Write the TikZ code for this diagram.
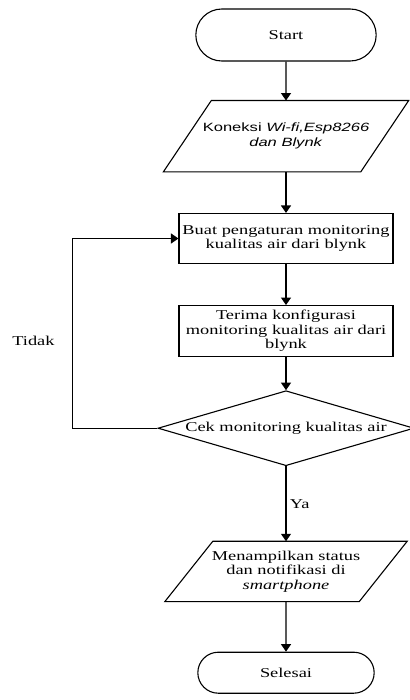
\documentclass[tikz,border=0pt]{standalone}
\usepackage{fontspec}
\setmainfont{Liberation Serif}[FakeStretch=1.36]
\newfontfamily\sanswide{Liberation Sans}[FakeStretch=1.38]
\usetikzlibrary{arrows.meta, positioning, shapes.geometric, shapes.misc}

\begin{document}
\begin{tikzpicture}[
        x=1pt, y=-1pt,
        node distance=41pt,
        font=\fontsize{13.5}{14.5}\selectfont,
        terminal/.style={rounded rectangle, draw, line width=1.1pt,
                         minimum width=187pt, minimum height=52pt},
        process/.style={rectangle, draw, line width=1.1pt, inner sep=2pt,
                        minimum width=214pt, minimum height=50pt, align=center},
        io/.style={rectangle, inner sep=0pt, minimum width=197pt,
                   minimum height=71pt, align=center},
        decision/.style={diamond, draw, line width=1.1pt, aspect=3.4, inner sep=0pt,
                         minimum width=256pt, minimum height=75pt},
        arrow/.style={-{Triangle[width=10pt, length=7.5pt]}, line width=1.2pt},
    ]
        \useasboundingbox (0,0) rectangle (409,700);

        \node[terminal] (start) at (286,35) {Start};
        \node[io, below=39pt of start,
              font=\sanswide\fontsize{12}{15}\selectfont] (koneksi)
              {Koneksi \textit{Wi-fi,Esp8266}\\\textit{dan Blynk}};
        \node[process, below=of koneksi] (atur)
              {Buat pengaturan monitoring\\kualitas air dari blynk};
        \node[process, below=of atur, minimum height=51pt] (terima)
              {Terima konfigurasi\\monitoring kualitas air dari\\blynk};
        \node[decision, below=33pt of terima] (cek) {Cek monitoring kualitas air};
        \node[io, below=75pt of cek, minimum width=194pt, minimum height=60pt] (tampil)
              {Menampilkan status\\dan notifikasi di\\\textit{smartphone}};
        \node[terminal, below=50pt of tampil, minimum width=183pt, minimum height=41pt] (selesai)
              {Selesai};

        % jajaran genjang untuk input/output
        \foreach \n in {koneksi, tampil}
            \draw[line width=1.1pt] ([xshift=24pt]\n.north west) -- ([xshift=24pt]\n.north east)
                -- ([xshift=-24pt]\n.south east) -- ([xshift=-24pt]\n.south west) -- cycle;

        \draw[arrow] (start) -- (koneksi);
        \draw[arrow] (koneksi) -- (atur);
        \draw[arrow] (atur) -- (terima);
        \draw[arrow] (terima) -- (cek);
        \draw[arrow] (cek) -- node[right] (ya) {Ya} (tampil);
        \draw[arrow] (tampil) -- (selesai);

        \draw[arrow] (cek.west) -- ++(-85pt,0)
            |- node[pos=0.23, left=14pt] (tidak) {Tidak} (atur.west);

    \end{tikzpicture}
\end{document}
